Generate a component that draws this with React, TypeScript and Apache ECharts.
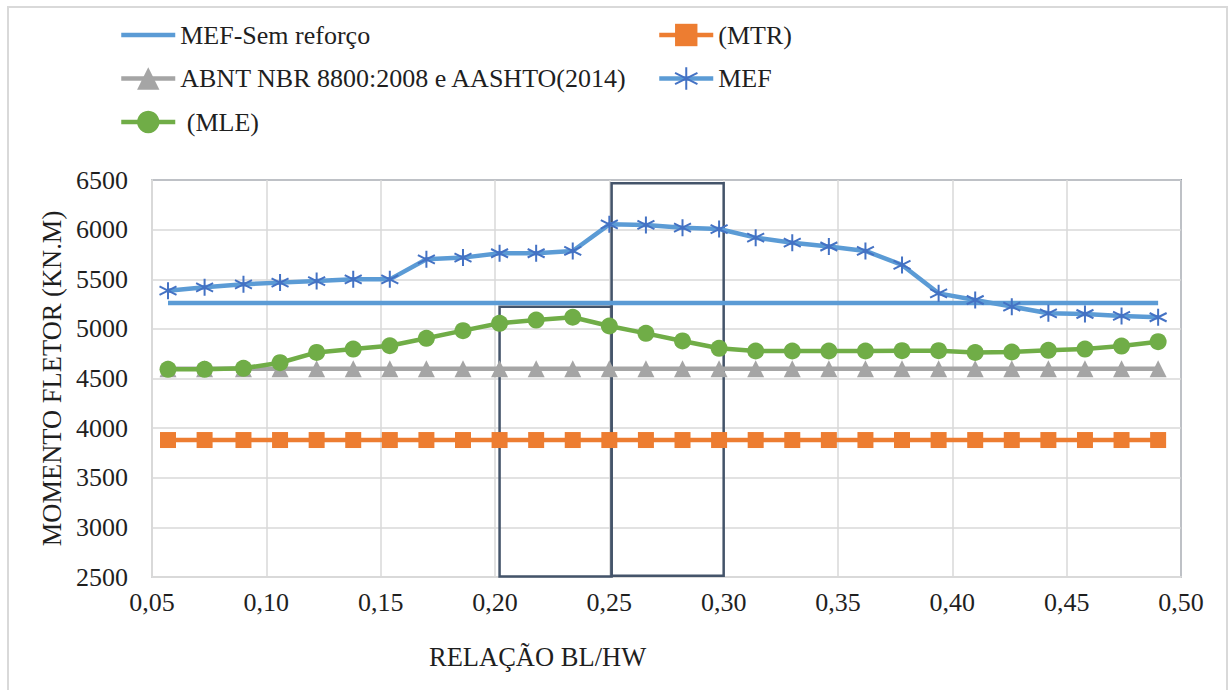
import React, { useEffect, useRef } from "react";
import * as echarts from "echarts";

const xValues = [
  0.057, 0.073, 0.09, 0.106, 0.122, 0.138, 0.154, 0.17, 0.186, 0.202, 0.218, 0.234, 0.25, 0.266,
  0.282, 0.298, 0.314, 0.33, 0.346, 0.362, 0.378, 0.394, 0.41, 0.426, 0.442, 0.458, 0.474, 0.49,
];
const mefSemReforco = Array(28).fill(5260);
const mtr = Array(28).fill(3880);
const abnt = Array(28).fill(4598);
const mef = [
  5385, 5419, 5449, 5466, 5482, 5499, 5499, 5701, 5718, 5762, 5762, 5785, 6053, 6047, 6020, 6006,
  5919, 5868, 5830, 5785, 5644, 5358, 5291, 5224, 5157, 5150, 5130, 5117,
];
const mle = [
  4592, 4592, 4603, 4659, 4763, 4797, 4830, 4905, 4982, 5056, 5089, 5117, 5029, 4955, 4878, 4804,
  4777, 4777, 4777, 4777, 4780, 4780, 4762, 4767, 4784, 4797, 4827, 4871,
];
const boxes = [
  { x0: 0.202, x1: 0.251, y0: 2505, y1: 5222 },
  { x0: 0.251, x1: 0.3, y0: 2512, y1: 6466 },
];

const seriesNames = [
  "MEF-Sem reforço",
  "(MTR)",
  "ABNT NBR 8800:2008 e AASHTO(2014)",
  "MEF",
  " (MLE)",
];

const FONT = "Liberation Serif";
const TXT = "#1f1f1f";
const asterisk = "path://M5,0 L5,10 M0.7,2.5 L9.3,7.5 M0.7,7.5 L9.3,2.5";

const pair = (ys: number[]) => xValues.map((x, i) => [x, ys[i]]);

export default function App() {
  const ref = useRef<HTMLDivElement>(null);
  useEffect(() => {
    if (!ref.current) return;
    const chart = echarts.init(ref.current, undefined, { renderer: "svg" });
    const legendText = { fontFamily: FONT, fontSize: 26, color: TXT };
    const legendCommon = {
      orient: "vertical",
      top: 17,
      itemGap: 17.5,
      itemWidth: 54,
      itemHeight: 28,
      textStyle: legendText,
      lineStyle: { width: 4.5 },
    };
    chart.setOption({
      animation: false,
      backgroundColor: "#fff",
      textStyle: { fontFamily: FONT },
      graphic: [
        {
          type: "rect",
          shape: { x: 8, y: 7, width: 1219, height: 700 },
          style: { fill: "none", stroke: "#d9d9d9", lineWidth: 2 },
          silent: true,
        },
        {
          type: "text",
          left: 429,
          top: 643,
          style: { text: "RELAÇÃO BL/HW", fontFamily: FONT, fontSize: 26.5, fill: TXT },
        },
      ],
      legend: [
        {
          ...legendCommon,
          left: 114,
          data: [
            { name: seriesNames[0], itemStyle: { opacity: 0 } },
            seriesNames[2],
            seriesNames[4],
          ],
        },
        {
          ...legendCommon,
          left: 652,
          data: [seriesNames[1], seriesNames[3]],
        },
      ],
      grid: {
        left: 152,
        right: 48,
        top: 180,
        bottom: 113,
        show: true,
        borderColor: "#44546A",
        borderWidth: 1.5,
        backgroundColor: "transparent",
      },
      xAxis: {
        type: "value",
        min: 0.05,
        max: 0.5,
        interval: 0.05,
        axisLine: { show: true, lineStyle: { color: "#d9d9d9", width: 2 } },
        axisTick: { show: false },
        splitLine: { show: true, lineStyle: { color: "#d9d9d9", width: 1.5 } },
        axisLabel: {
          margin: 12,
          fontFamily: FONT,
          fontSize: 26,
          color: TXT,
          formatter: (v: number) => v.toFixed(2).replace(".", ","),
        },
      },
      yAxis: {
        type: "value",
        min: 2500,
        max: 6500,
        interval: 500,
        name: "MOMENTO FLETOR (KN.M)",
        nameLocation: "middle",
        nameGap: 76,
        nameTextStyle: { fontFamily: FONT, fontSize: 26.5, color: TXT },
        axisLine: { show: true, lineStyle: { color: "#d9d9d9", width: 2 } },
        axisTick: { show: false },
        splitLine: { show: true, lineStyle: { color: "#d9d9d9", width: 1.5 } },
        axisLabel: {
          margin: 24,
          fontFamily: FONT,
          fontSize: 26,
          color: TXT,
          formatter: (v: number) => String(v),
        },
      },
      series: [
        {
          name: seriesNames[0],
          type: "line",
          data: pair(mefSemReforco),
          showSymbol: false,
          symbol: "none",
          lineStyle: { color: "#5B9BD5", width: 4.5 },
          itemStyle: { color: "#5B9BD5" },
          z: 2,
        },
        {
          name: seriesNames[1],
          type: "line",
          data: pair(mtr),
          symbol: "rect",
          symbolSize: 16,
          lineStyle: { color: "#ED7D31", width: 4.5 },
          itemStyle: { color: "#ED7D31" },
          z: 2,
        },
        {
          name: seriesNames[2],
          type: "line",
          data: pair(abnt),
          symbol: "triangle",
          symbolSize: 17,
          lineStyle: { color: "#A5A5A5", width: 4.5 },
          itemStyle: { color: "#A5A5A5" },
          z: 2,
        },
        {
          name: seriesNames[3],
          type: "line",
          data: pair(mef),
          symbol: asterisk,
          symbolSize: 17,
          lineStyle: { color: "#5B9BD5", width: 4.5 },
          itemStyle: { color: "#4472C4", borderColor: "#4472C4", borderWidth: 2 },
          z: 2,
        },
        {
          name: seriesNames[4],
          type: "line",
          data: pair(mle),
          symbol: "circle",
          symbolSize: 17,
          lineStyle: { color: "#70AD47", width: 4.5 },
          itemStyle: { color: "#70AD47" },
          z: 2,
        },
        {
          name: "boxes",
          type: "line",
          data: [],
          z: 5,
          markArea: {
            silent: true,
            itemStyle: { color: "transparent", borderColor: "#44546A", borderWidth: 2.5 },
            data: boxes.map((b) => [{ coord: [b.x0, b.y0] }, { coord: [b.x1, b.y1] }]),
          },
        },
      ],
    });
    return () => chart.dispose();
  }, []);
  return (
    <div
      ref={ref}
      style={{ position: "absolute", left: 0, top: 0, width: 1229, height: 690 }}
    />
  );
}
